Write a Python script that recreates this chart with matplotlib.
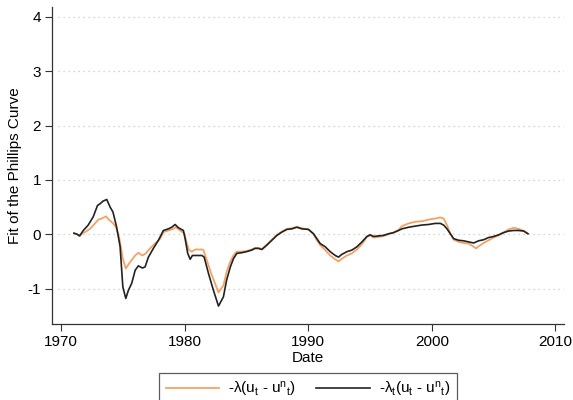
import matplotlib
matplotlib.use("Agg")
import matplotlib.pyplot as plt

plt.rcParams['font.family'] = ['Liberation Sans', 'DejaVu Sans']
plt.rcParams['mathtext.default'] = 'regular'
plt.rcParams['axes.unicode_minus'] = False

# constant-lambda fit
dates_const = [1971.05, 1971.3, 1971.5, 1971.8, 1971.94, 1972.35, 1972.75, 1973.02, 1973.3,
               1973.64, 1973.91, 1974.18, 1974.45, 1974.72, 1975.0, 1975.24, 1975.59, 1976.0,
               1976.26, 1976.58, 1976.86, 1977.2, 1977.61, 1978.02, 1978.28, 1978.69, 1979.09,
               1979.28, 1979.64, 1979.99, 1980.18, 1980.36, 1980.58, 1980.85, 1981.4, 1981.52,
               1981.8, 1982.15, 1982.74, 1983.14, 1983.4, 1983.68, 1983.95, 1984.2, 1984.6,
               1985.0, 1985.44, 1985.7, 1985.97, 1986.25, 1986.65, 1987.06, 1987.47, 1987.87,
               1988.28, 1988.68, 1989.08, 1989.49, 1990.02, 1990.43, 1990.7, 1990.97, 1991.38,
               1991.78, 1992.19, 1992.45, 1992.72, 1993.13, 1993.54, 1993.94, 1994.35, 1994.75,
               1995.02, 1995.29, 1995.69, 1996.1, 1996.5, 1996.9, 1997.31, 1997.59, 1998.13,
               1998.66, 1999.2, 1999.74, 2000.28, 2000.69, 2000.96, 2001.23, 2001.5, 2001.77,
               2002.17, 2002.58, 2002.98, 2003.39, 2003.6, 2003.79, 2004.2, 2004.6, 2005.0,
               2005.41, 2005.8, 2006.22, 2006.63, 2007.03, 2007.44, 2007.78]
fit_const = [0.02, 0.0, -0.03, 0.03, 0.04, 0.10, 0.20, 0.27, 0.29,
             0.33, 0.26, 0.21, 0.13, -0.08, -0.45, -0.63, -0.51, -0.39,
             -0.34, -0.39, -0.35, -0.26, -0.17, -0.08, 0.04, 0.07, 0.10,
             0.13, 0.07, 0.01, -0.17, -0.29, -0.32, -0.28, -0.28, -0.29,
             -0.48, -0.72, -1.07, -0.94, -0.69, -0.51, -0.39, -0.32, -0.32,
             -0.31, -0.28, -0.25, -0.25, -0.27, -0.19, -0.10, -0.01, 0.05,
             0.10, 0.11, 0.14, 0.11, 0.09, 0.0, -0.11, -0.20, -0.29,
             -0.39, -0.46, -0.50, -0.45, -0.39, -0.35, -0.28, -0.18, -0.05,
             -0.02, -0.06, -0.05, -0.03, 0.0, 0.03, 0.08, 0.15, 0.20,
             0.23, 0.24, 0.27, 0.29, 0.31, 0.29, 0.17, 0.01, -0.10,
             -0.14, -0.16, -0.17, -0.23, -0.26, -0.22, -0.16, -0.11, -0.06,
             -0.02, 0.03, 0.09, 0.12, 0.10, 0.06, 0.01]

# time-varying-lambda fit
dates_tv = [1971.05, 1971.3, 1971.5, 1971.8, 1972.2, 1972.6, 1972.95, 1973.15, 1973.4,
            1973.7, 1973.97, 1974.2, 1974.5, 1974.78, 1975.0, 1975.24, 1975.45, 1975.72,
            1976.0, 1976.26, 1976.58, 1976.8, 1977.07, 1977.47, 1977.88, 1978.28, 1978.69,
            1978.96, 1979.23, 1979.5, 1979.9, 1980.04, 1980.25, 1980.45, 1980.63, 1980.99,
            1981.4, 1981.58, 1981.93, 1982.33, 1982.74, 1983.14, 1983.4, 1983.7, 1983.95,
            1984.23, 1984.6, 1985.0, 1985.44, 1985.7, 1985.97, 1986.25, 1986.65, 1987.06,
            1987.47, 1987.87, 1988.28, 1988.68, 1989.08, 1989.49, 1990.02, 1990.43, 1990.7,
            1990.97, 1991.38, 1991.78, 1992.19, 1992.45, 1992.72, 1993.13, 1993.54, 1993.94,
            1994.35, 1994.75, 1995.02, 1995.29, 1995.69, 1996.1, 1996.5, 1996.9, 1997.31,
            1997.59, 1998.13, 1998.66, 1999.2, 1999.74, 2000.28, 2000.69, 2000.96, 2001.23,
            2001.5, 2001.77, 2002.17, 2002.58, 2002.98, 2003.39, 2003.79, 2004.2, 2004.6,
            2005.0, 2005.41, 2005.8, 2006.22, 2006.63, 2007.03, 2007.44, 2007.78]
fit_tv = [0.02, 0.0, -0.03, 0.07, 0.17, 0.32, 0.53, 0.56, 0.61,
          0.64, 0.50, 0.41, 0.13, -0.23, -0.97, -1.18, -1.03, -0.90,
          -0.66, -0.58, -0.62, -0.60, -0.42, -0.26, -0.11, 0.07, 0.10,
          0.13, 0.18, 0.12, 0.07, -0.08, -0.35, -0.46, -0.39, -0.39,
          -0.39, -0.42, -0.72, -1.03, -1.32, -1.15, -0.84, -0.60, -0.45,
          -0.35, -0.34, -0.32, -0.29, -0.26, -0.26, -0.28, -0.20, -0.11,
          -0.02, 0.04, 0.09, 0.10, 0.13, 0.10, 0.09, 0.01, -0.08,
          -0.17, -0.23, -0.32, -0.39, -0.42, -0.37, -0.32, -0.29, -0.23,
          -0.14, -0.04, -0.01, -0.04, -0.03, -0.02, 0.01, 0.03, 0.07,
          0.10, 0.13, 0.15, 0.17, 0.18, 0.20, 0.20, 0.17, 0.10,
          0.01, -0.08, -0.11, -0.12, -0.14, -0.16, -0.12, -0.10, -0.06,
          -0.04, -0.01, 0.03, 0.06, 0.07, 0.07, 0.06, 0.01]

x_ticks = [1970, 1980, 1990, 2000, 2010]
y_ticks = [-1, 0, 1, 2, 3, 4]

fig = plt.figure(figsize=(5.73, 4.0), dpi=100)
ax = fig.add_axes([0.0908, 0.19, 0.8935, 0.7925])

for y in y_ticks:
    ax.axhline(y, xmin=0.012, xmax=1, color='#c8c8c8', lw=0.9, ls=(0, (1, 3)), zorder=0)

ax.plot(dates_const, fit_const, color='#f5a164', lw=1.3, label=r'-λ(u$_t$ - u$^n{}_t$)')
ax.plot(dates_tv, fit_tv, color='#222222', lw=1.2, label=r'-λ$_t$(u$_t$ - u$^n{}_t$)')

ax.set_xlim(1969.27, 2010.7)
ax.set_ylim(-1.65, 4.18)
ax.set_xticks(x_ticks)
ax.set_yticks(y_ticks)
ax.tick_params(labelsize=11, length=5, width=0.8, color='#333333', pad=3)
ax.spines['top'].set_visible(False)
ax.spines['right'].set_visible(False)
for s in ('left', 'bottom'):
    ax.spines[s].set_linewidth(0.9)
    ax.spines[s].set_color('#333333')

ax.set_xlabel('Date', fontsize=11, labelpad=1)
ax.set_ylabel('Fit of the Phillips Curve', fontsize=11, va='center')
ax.yaxis.set_label_coords(-0.072, 0.5)

leg = fig.legend(loc='upper center', bbox_to_anchor=(0.5375, 0.0675), ncol=2,
                 fontsize=11, frameon=True, fancybox=False, borderaxespad=0,
                 handlelength=3.5, handletextpad=0.6, columnspacing=1.3, borderpad=0.45)
leg.get_frame().set_edgecolor('#333333')
leg.get_frame().set_linewidth(0.9)

fig.savefig('out.png', dpi=100)
